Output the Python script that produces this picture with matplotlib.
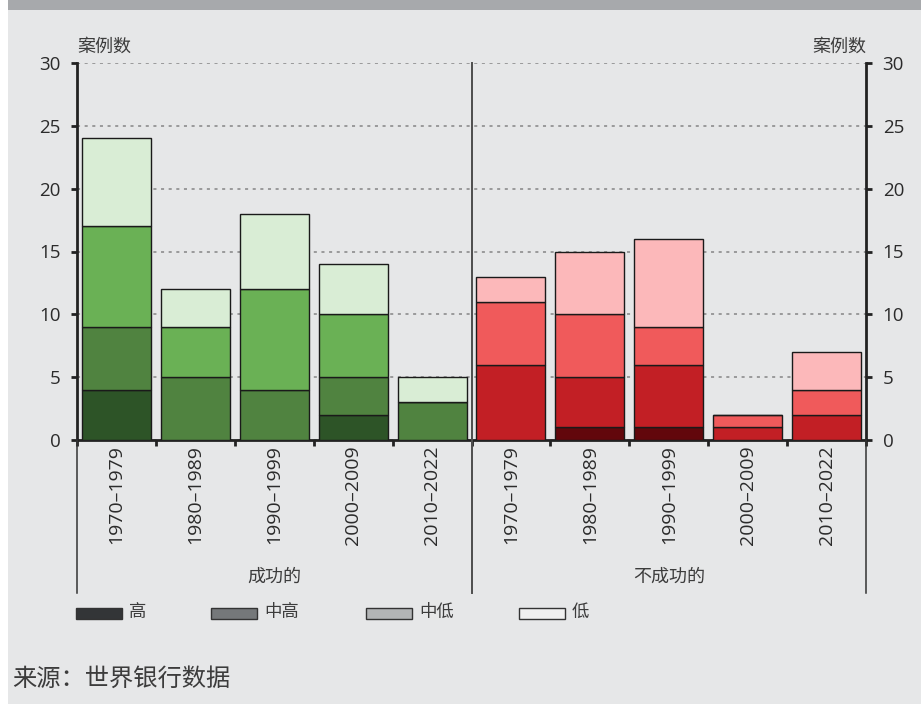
import numpy as np
import matplotlib
matplotlib.use("Agg")
import matplotlib.pyplot as plt
from matplotlib.patches import Rectangle

plt.rcParams['font.family'] = ['Open Sans', 'Noto Sans CJK SC', 'DejaVu Sans']

# ---- data ----
periods = ["1970–1979", "1980–1989", "1990–1999", "2000–2009", "2010–2022"]
groups = ["成功的", "不成功的"]
levels = ["高", "中高", "中低", "低"]

# successful cases by income level
succ_high = [4, 0, 0, 2, 0]
succ_upper_mid = [5, 5, 4, 3, 3]
succ_lower_mid = [8, 4, 8, 5, 0]
succ_low = [7, 3, 6, 4, 2]

# unsuccessful cases by income level
fail_high = [0, 1, 1, 0, 0]
fail_upper_mid = [6, 4, 5, 1, 2]
fail_lower_mid = [5, 5, 3, 1, 2]
fail_low = [2, 5, 7, 0, 3]

y_ticks = [0, 5, 10, 15, 20, 25, 30]
y_label = "案例数"
source = "来源：世界银行数据"

green = ["#2d5427", "#508340", "#6ab155", "#d9edd5"]
red = ["#62070c", "#c21f25", "#f05a5b", "#fcb8ba"]
legend_colors = ["#333537", "#75787a", "#b3b5b6", "#f0f0f0"]

W_PX, H_PX = 921, 704
BG = "#e6e7e8"
TXT = "#2b2b2b"
CJK = "#3c3c3c"


def fx(px):
    return px / W_PX


def fy(py):
    return 1 - py / H_PX


fig = plt.figure(figsize=(W_PX / 100, H_PX / 100), dpi=100, facecolor="white")

# panel background and top band
fig.patches.append(Rectangle((fx(8), 0), 1 - fx(8), 1, transform=fig.transFigure,
                             facecolor=BG, edgecolor="none", zorder=-10))
fig.patches.append(Rectangle((fx(8), fy(10)), 1 - fx(8), fy(0) - fy(10),
                             transform=fig.transFigure, facecolor="#a7a9ac",
                             edgecolor="none", zorder=-9))

ax = fig.add_axes([fx(77), fy(440), fx(866) - fx(77), fy(63) - fy(440)])
ax.set_facecolor(BG)
ax.patch.set_alpha(0)

n = len(periods)
x = np.arange(2 * n)
stacks = [
    [succ_high + fail_high, green[0], red[0]],
    [succ_upper_mid + fail_upper_mid, green[1], red[1]],
    [succ_lower_mid + fail_lower_mid, green[2], red[2]],
    [succ_low + fail_low, green[3], red[3]],
]
bottom = np.zeros(2 * n)
for vals, gcol, rcol in stacks:
    vals = np.array(vals, dtype=float)
    colors = [gcol] * n + [rcol] * n
    ax.bar(x, vals, width=0.875, bottom=bottom, color=colors,
           edgecolor="#1a1a1a", linewidth=1.0, zorder=3)
    bottom += vals

ax.set_xlim(-0.5, 2 * n - 0.5)
ax.set_ylim(0, 30)

# axes frame
ax.spines["top"].set_visible(False)
for s in ["left", "right", "bottom"]:
    ax.spines[s].set_linewidth(2)
    ax.spines[s].set_color("#222222")

ax.set_yticks(y_ticks)
ax.set_yticklabels([str(v) for v in y_ticks])
ax.tick_params(axis="y", which="major", left=True, right=True, labelleft=True,
               labelright=True, direction="out", length=4, width=2,
               color="#222222", labelsize=13.5, labelcolor=TXT, pad=8)

ax.yaxis.grid(True, linestyle=(0, (2, 3)), color="#858585", linewidth=1.1)
ax.set_axisbelow(True)

# category boundaries as ticks, period names at bar centres
ax.set_xticks(np.arange(-0.5, 2 * n, 1.0))
ax.set_xticklabels([])
ax.tick_params(axis="x", which="major", direction="out", length=4, width=2,
               color="#222222")
ax.set_xticks(x, minor=True)
ax.set_xticklabels(periods + periods, minor=True, rotation=90,
                   fontsize=14, color=TXT)
ax.tick_params(axis="x", which="minor", length=0, pad=4)

# group separators extending below the axis
xt = ax.get_xaxis_transform()
ext = -(593 - 440) / (440 - 63)
for xv in [-0.5, 2 * n - 0.5]:
    ax.plot([xv, xv], [0, ext], transform=xt, color="#333333", lw=1.1,
            clip_on=False, zorder=5)
ax.plot([n - 0.5, n - 0.5], [1, ext], transform=xt, color="#4d4d4d", lw=1.4,
        clip_on=False, zorder=5)

# group names
ax.text((n - 1) / 2, -(577 - 440) / 377, groups[0], transform=xt,
        ha="center", va="center", fontsize=13, color=CJK)
ax.text(n + (n - 1) / 2, -(577 - 440) / 377, groups[1], transform=xt,
        ha="center", va="center", fontsize=13, color=CJK)

# axis unit labels
fig.text(fx(77), fy(47), y_label, ha="left", va="center", fontsize=13, color=CJK)
fig.text(fx(866), fy(47), y_label, ha="right", va="center", fontsize=13, color=CJK)

# legend
patch_x = [76, 211, 366, 519]
for lx, col, lab in zip(patch_x, legend_colors, levels):
    fig.patches.append(Rectangle((fx(lx), fy(619)), fx(46), fy(608) - fy(619),
                                 transform=fig.transFigure, facecolor=col,
                                 edgecolor="#333333", linewidth=1.0))
    fig.text(fx(lx + 53), fy(613), lab, ha="left", va="center",
             fontsize=12.5, color=CJK)

# source note
fig.text(fx(12), fy(680), source, ha="left", va="center", fontsize=17.5,
         color=CJK)

fig.savefig("out.png", dpi=100, facecolor=fig.get_facecolor())
